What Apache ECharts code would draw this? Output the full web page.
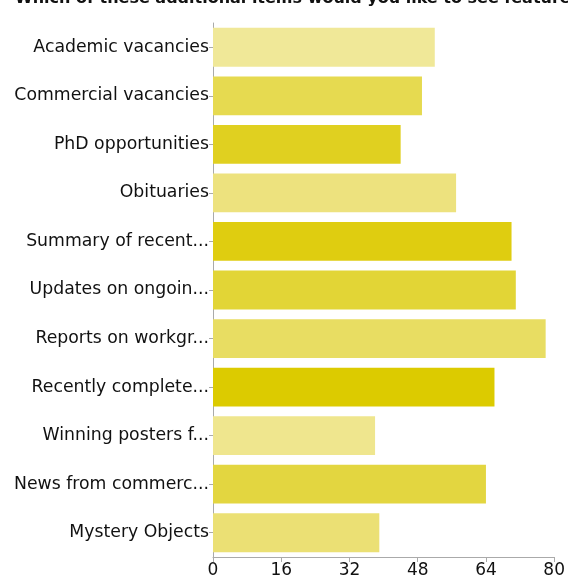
<!DOCTYPE html>
<html>
<head>
<meta charset="utf-8">
<script src="https://cdn.jsdelivr.net/npm/echarts@6/dist/echarts.min.js"></script>
<style>html,body{margin:0;padding:0;background:#fff;}#c{width:568px;height:583px;}</style>
</head>
<body>
<div id="c"></div>
<script>
var categories = ["Academic vacancies","Commercial vacancies","PhD opportunities","Obituaries","Summary of recent...","Updates on ongoin...","Reports on workgr...","Recently complete...","Winning posters f...","News from commerc...","Mystery Objects"];
var values = [52, 49, 44, 57, 70, 71, 78, 66, 38, 64, 39];
var barColors = ["#f0e898","#e6da50","#e0d020","#ede27e","#dfcd10","#e2d536","#e8dd62","#dccb00","#efe68e","#e3d640","#ebe074"];
var xTicks = [0, 16, 32, 48, 64, 80];
var titleText = "Which of these additional items would you like to see featured in the newsletter?";

var chart = echarts.init(document.getElementById('c'));
chart.setOption({
  animation: false,
  title: {
    text: titleText,
    left: 10, top: -14,
    textStyle: {fontFamily: 'DejaVu Sans', fontSize: 16, fontWeight: 'bold', color: '#111'}
  },
  grid: {left: 213, right: 13, top: 23, bottom: 26, containLabel: false},
  xAxis: {
    type: 'value', min: xTicks[0], max: xTicks[xTicks.length-1], interval: 16,
    axisLine: {show: true, lineStyle: {color: '#aaa', width: 1}},
    axisTick: {show: true, length: 5, lineStyle: {color: '#aaa'}},
    splitLine: {show: false},
    axisLabel: {fontFamily: 'DejaVu Sans', fontSize: 17, color: '#111', margin: 5}
  },
  yAxis: {
    type: 'category', data: categories, inverse: true,
    axisLine: {show: true, lineStyle: {color: '#aaa', width: 1}},
    axisTick: {show: true, alignWithLabel: true, length: 4, lineStyle: {color: '#aaa'}},
    axisLabel: {fontFamily: 'DejaVu Sans', fontSize: 17.3, color: '#111', margin: 4}
  },
  series: [{
    type: 'bar',
    data: values.map(function(v, i){ return {value: v, itemStyle: {color: barColors[i]}}; }),
    barCategoryGap: '20%'
  }]
});
</script>
</body>
</html>
